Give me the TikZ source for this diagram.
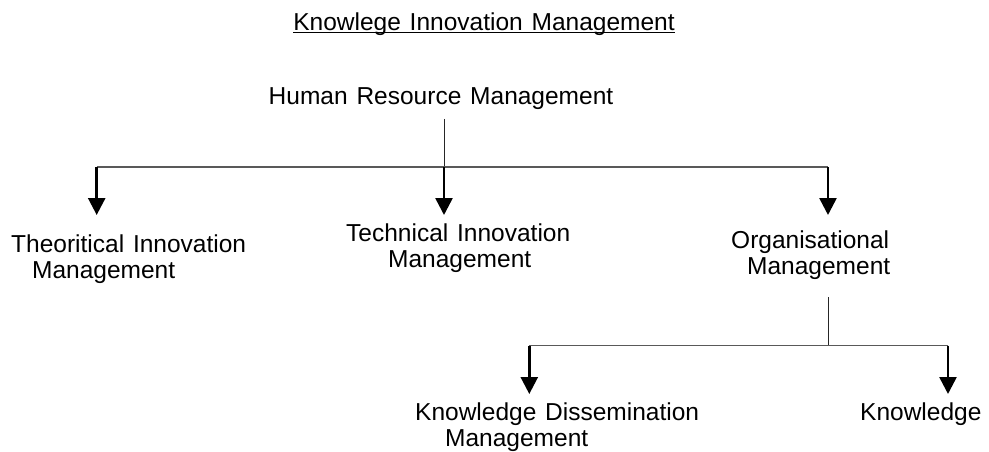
\documentclass[tikz,border=0pt]{standalone}
\usepackage{fontspec}
\setmainfont{Liberation Sans}[WordSpace=1.3]
\usetikzlibrary{arrows.meta}
\begin{document}
\begin{tikzpicture}[x=1pt,y=-1pt,
  lbl/.style={inner sep=0pt,font=\fontsize{24.5}{26}\selectfont},
  lbltwo/.style={lbl,align=left,anchor=north west},
  busline/.style={line width=1.3pt,draw=black!65},
  stemline/.style={line width=1pt,draw=black!85},
  downarrow/.style={line width=2.6pt,-{Triangle[width=17pt,length=17pt]}}]
\useasboundingbox (0,0) rectangle (989,452);
% texts
\node[lbl,anchor=base] (title) at (484,31) {Knowlege Innovation Management};
\node[lbl,anchor=base] (hrm) at (441,105) {Human Resource Management};
\node[lbltwo] (theo) at (11,234.5) {Theoritical Innovation\\\hspace*{21pt}Management};
\node[lbltwo] (tech) at (346,224) {Technical Innovation\\\hspace*{42pt}Management};
\node[lbltwo] (org) at (731,231) {Organisational\\\hspace*{16pt}Management};
\node[lbltwo] (kdm) at (415,403) {Knowledge Dissemination\\\hspace*{30pt}Management};
\node[lbltwo] (know) at (860,403) {Knowledge};
% underline of title
\draw[line width=1.4pt] ([yshift=-1.8pt]title.base west) -- ([yshift=-1.8pt]title.base east);
% coordinates
\coordinate (hrmout) at (444,119);
\coordinate (b1) at (444,167);
\coordinate (b1l) at (96.7,167);
\coordinate (b1r) at (828,167);
\coordinate (t1) at (96.7,215);
\coordinate (t2) at (444,215);
\coordinate (t3) at (828,215);
\coordinate (orgout) at (828,297);
\coordinate (b2) at (828,345.7);
\coordinate (b2l) at (529.3,345.7);
\coordinate (b2r) at (948,345.7);
\coordinate (t4) at (529.3,394);
\coordinate (t5) at (948,394);
% top tree
\draw[stemline] (hrmout) -- (b1);
\draw[busline] (b1l) -- (b1r);
\draw[downarrow] (b1l) -- (t1);
\draw[downarrow] (b1) -- (t2);
\draw[downarrow] (b1r) -- (t3);
% lower tree
\draw[stemline] (orgout) -- (b2);
\draw[busline] (b2l) -- (b2r);
\draw[downarrow] (b2l) -- (t4);
\draw[downarrow] (b2r) -- (t5);
\end{tikzpicture}
\end{document}
